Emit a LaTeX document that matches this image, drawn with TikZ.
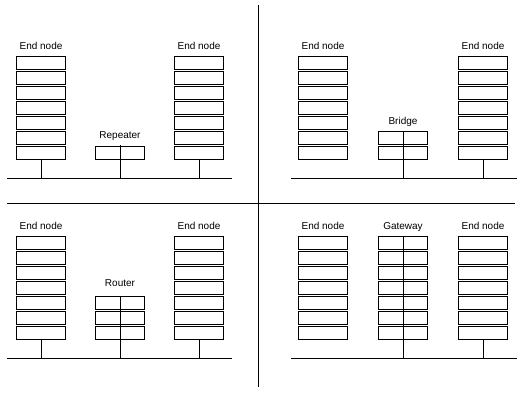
\documentclass[tikz,border=0pt]{standalone}
\usepackage{fontspec}
\setmainfont{Liberation Sans}
\usetikzlibrary{positioning}

\begin{document}
\begin{tikzpicture}[x=1pt,y=-1pt,
  lyrbox/.style={draw,line width=0.8pt,minimum width=49pt,minimum height=13pt,inner sep=0pt,outer sep=0pt},
  lbl/.style={font=\fontsize{10}{12}\selectfont,inner sep=0pt,anchor=base},
  wire/.style={line width=0.8pt}]
\useasboundingbox (0,0) rectangle (521,402);

% quadrant dividers
\coordinate (divT) at (258,5);
\coordinate (divB) at (258,387);
\coordinate (divL) at (7,203);
\coordinate (divR) at (515,203);
\draw[wire] (divT) -- (divB);
\draw[wire] (divL) -- (divR);

% end node stacks
\foreach \s/\x/\t in {ta/41/56, tb/199/56, tc/323/56, td/483/56, ba/41/236, bb/199/236, bc/323/236, bd/483/236}{
  \foreach \i in {1,...,7}
    \node[lyrbox] (\s\i) at (\x,\t+6.5+15*\i-15) {};
  \node[lbl] (\s-lbl) at ([yshift=7pt]\s1.north) {End node};
}

% repeater
\node[lyrbox] (rep7) at (120,56+6.5+90) {};
\node[lbl] (rep-lbl) at ([yshift=8pt]rep7.north) {Repeater};

% bridge
\foreach \i in {6,7}
  \node[lyrbox] (brg\i) at (403,56+6.5+15*\i-15) {};
\node[lbl] (brg-lbl) at ([yshift=7pt]brg6.north) {Bridge};

% router
\foreach \i in {5,6,7}
  \node[lyrbox] (rtr\i) at (120,236+6.5+15*\i-15) {};
\node[lbl] (rtr-lbl) at ([yshift=10pt]rtr5.north) {Router};

% gateway
\foreach \i in {1,...,7}
  \node[lyrbox] (gw\i) at (403,236+6.5+15*\i-15) {};
\node[lbl] (gw-lbl) at ([yshift=7pt]gw1.north) {Gateway};

% buses
\coordinate (busTLa) at (7,178);
\coordinate (busTLb) at (232,178);
\coordinate (busTRa) at (291,178);
\coordinate (busTRb) at (517,178);
\coordinate (busBLa) at (7,358);
\coordinate (busBLb) at (232,358);
\coordinate (busBRa) at (291,358);
\coordinate (busBRb) at (517,358);
\draw[wire] (busTLa) -- (busTLb);
\draw[wire] (busTRa) -- (busTRb);
\draw[wire] (busBLa) -- (busBLb);
\draw[wire] (busBRa) -- (busBRb);

% drops to the buses
\draw[wire] (ta7.south) -- (ta7.south |- busTLa);
\draw[wire] (tb7.south) -- (tb7.south |- busTLa);
\draw[wire] ([yshift=1pt]rep7.north) -- (rep7.north |- busTLa);
\draw[wire] (brg6.north) -- (brg6.north |- busTRa);
\draw[wire] (td7.south) -- (td7.south |- busTRa);
\draw[wire] (ba7.south) -- (ba7.south |- busBLa);
\draw[wire] (bb7.south) -- (bb7.south |- busBLa);
\draw[wire] (rtr5.north) -- (rtr5.north |- busBLa);
\draw[wire] (gw1.north) -- (gw1.north |- busBRa);
\draw[wire] (bd7.south) -- (bd7.south |- busBRa);

\end{tikzpicture}
\end{document}
